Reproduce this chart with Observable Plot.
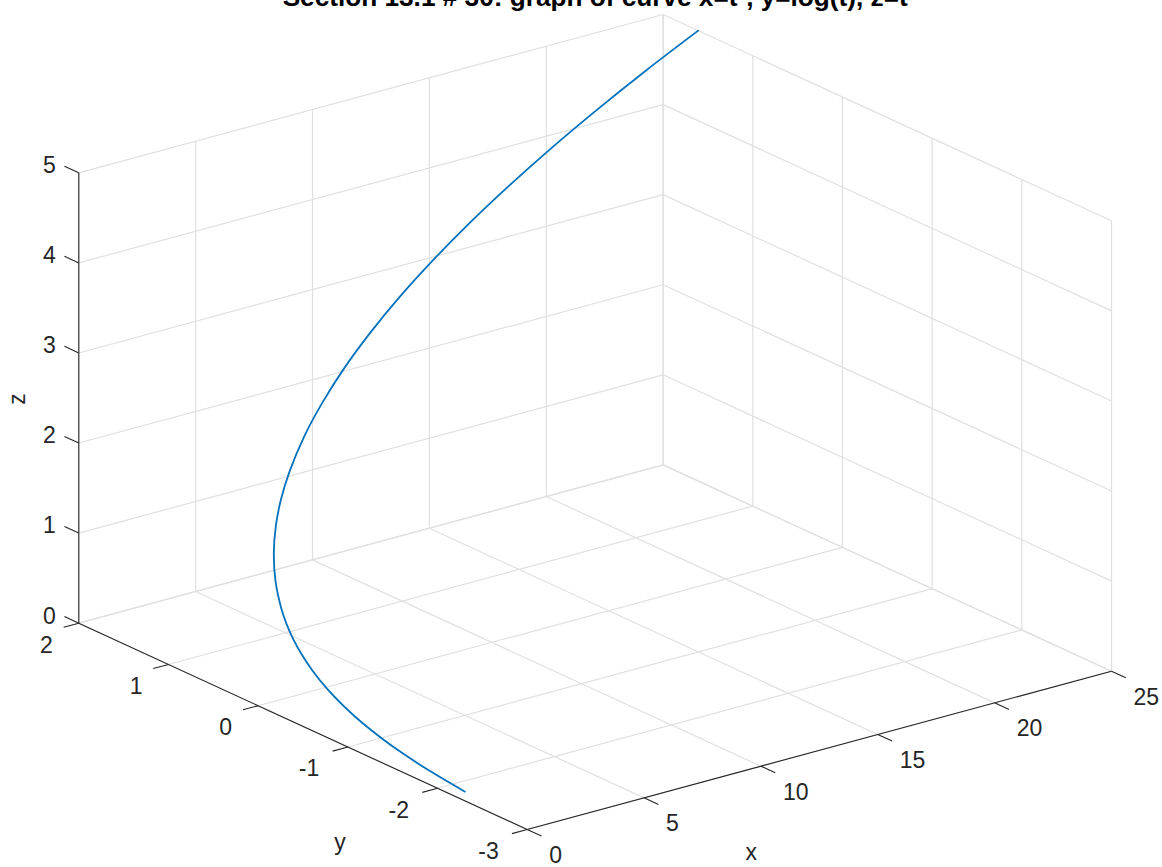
<!DOCTYPE html>
<html><head><meta charset="utf-8">
<style>html,body{margin:0;padding:0;background:#fff}svg{display:block}</style>
<script src="https://cdn.jsdelivr.net/npm/d3@7"></script>
<script src="https://cdn.jsdelivr.net/npm/@observablehq/plot@0.6"></script>
</head><body><script>
const titleText = "Section 13.1 # 30: graph of curve x=t², y=log(t), z=t";
const xTicks = [0,5,10,15,20,25];
const yTicks = [2,1,0,-1,-2,-3];
const zTicks = [0,1,2,3,4,5];
const curveX = [0.01,0.0225,0.04,0.0625,0.09,0.1225,0.16,0.25,0.36,0.49,0.64,0.81,1,1.44,1.96,2.56,3.24,4,5.06,6.25,7.56,9,10.56,12.25,14.06,16,18.06,20.25,22.56,25];
const curveY = [-2.303,-1.897,-1.609,-1.386,-1.204,-1.05,-0.916,-0.693,-0.511,-0.357,-0.223,-0.105,0,0.182,0.336,0.47,0.588,0.693,0.811,0.916,1.012,1.099,1.179,1.253,1.322,1.386,1.447,1.504,1.558,1.609];
const curveZ = [0.1,0.15,0.2,0.25,0.3,0.35,0.4,0.5,0.6,0.7,0.8,0.9,1,1.2,1.4,1.6,1.8,2,2.25,2.5,2.75,3,3.25,3.5,3.75,4,4.25,4.5,4.75,5];

// Default 3-D view: azimuth -37.5, elevation 30
const az = -37.5*Math.PI/180, el = 30*Math.PI/180;
const nx = x => x/25, ny = y => (y+3)/5, nz = z => z/5;
const U = (x,y,z) => Math.cos(az)*nx(x) + Math.sin(az)*ny(y);
const V = (x,y,z) => -Math.sin(az)*Math.sin(el)*nx(x) + Math.cos(az)*Math.sin(el)*ny(y) + Math.cos(el)*nz(z);
const seg = (a,b) => ({x1:U(...a),y1:V(...a),x2:U(...b),y2:V(...b)});

const grid = [
  ...xTicks.flatMap(x => [seg([x,-3,0],[x,2,0]), seg([x,2,0],[x,2,5])]),
  ...yTicks.flatMap(y => [seg([0,y,0],[25,y,0]), seg([25,y,0],[25,y,5])]),
  ...zTicks.flatMap(z => [seg([0,2,z],[25,2,z]), seg([25,-3,z],[25,2,z])])
];
const axes = [seg([0,-3,0],[25,-3,0]), seg([0,-3,0],[0,2,0]), seg([0,2,0],[0,2,5])];
const ticks = [
  ...xTicks.map(x => seg([x,-3,0],[x,-3.16,0])),
  ...yTicks.map(y => seg([0,y,0],[-0.65,y,0])),
  ...zTicks.map(z => seg([0,2,z],[0,2.16,z]))
];
const curve = curveX.map((x,i) => ({u:U(x,curveY[i],curveZ[i]), v:V(x,curveY[i],curveZ[i])}));
const font = {fontFamily:"Liberation Sans, Helvetica, Arial, sans-serif", fill:"#262626", fontSize:23};
const lab = (t,p) => ({t, u:U(...p), v:V(...p)});

const chart = Plot.plot({
  width:1162, height:867, margin:0,
  style:{background:"#fff"},
  x:{type:"linear", domain:[Math.sin(az), Math.cos(az)], range:[78.3,1111], axis:null},
  y:{type:"linear", domain:[0, V(25,2,5)], range:[829,14], axis:null},
  marks:[
    Plot.link(grid,{x1:"x1",y1:"y1",x2:"x2",y2:"y2",stroke:"#e0e0e0",strokeWidth:1.2}),
    Plot.link(axes,{x1:"x1",y1:"y1",x2:"x2",y2:"y2",stroke:"#262626",strokeWidth:1.1}),
    Plot.link(ticks,{x1:"x1",y1:"y1",x2:"x2",y2:"y2",stroke:"#262626",strokeWidth:1.1}),
    Plot.line(curve,{x:"u",y:"v",stroke:"#0072BD",strokeWidth:1.8,curve:"catmull-rom"}),
    Plot.text(xTicks.map(x=>lab(String(x),[x,-3,0])),{x:"u",y:"v",text:"t",...font,textAnchor:"start",dx:22,dy:26}),
    Plot.text(yTicks.filter(y=>y>=0).map(y=>lab(String(y),[0,y,0])),{x:"u",y:"v",text:"t",...font,textAnchor:"end",dx:-26,dy:22}),
    Plot.text(yTicks.filter(y=>y<0).map(y=>lab(String(y),[0,y,0])),{x:"u",y:"v",text:"t",...font,textAnchor:"end",dx:-28.5,dy:22}),
    Plot.text(zTicks.map(z=>lab(String(z),[0,2,z])),{x:"u",y:"v",text:"t",...font,textAnchor:"end",dx:-23,dy:-7}),
    Plot.text([lab("x",[12.5,-3,0])],{x:"u",y:"v",text:"t",...font,dx:-68,dy:102}),
    Plot.text([lab("y",[0,-0.5,0])],{x:"u",y:"v",text:"t",...font,dx:37,dy:116}),
    Plot.text([lab("z",[0,2,2.5])],{x:"u",y:"v",text:"t",...font,dx:-61,dy:1,rotate:-90}),
    Plot.text([titleText],{x:()=> (Math.sin(az)+Math.cos(az))/2,text:d=>d,frameAnchor:"top",lineAnchor:"bottom",dy:5,
      fontFamily:font.fontFamily,fontWeight:"bold",fontSize:26.2,fill:"#000"})
  ]
});
document.body.appendChild(chart);
</script></body></html>
